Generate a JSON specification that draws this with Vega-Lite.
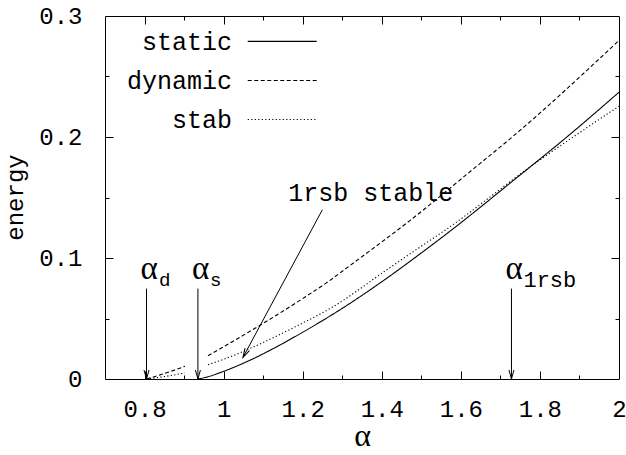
{
  "$schema": "https://vega.github.io/schema/vega-lite/v6.json",
  "width": 514,
  "height": 363,
  "autosize": {"type": "none"},
  "padding": {"left": 105, "top": 16, "right": 7, "bottom": 76},
  "background": "white",
  "config": {
    "view": {"stroke": "black", "strokeWidth": 1},
    "axis": {"grid": false, "domain": false, "labelColor": "black", "tickColor": "black", "titleColor": "black"}
  },
  "datasets": {
    "curves": [
      {"series": "static", "seg": "s1", "a": 0.935, "e": 0},
      {"series": "static", "seg": "s1", "a": 0.960, "e": 0.0018},
      {"series": "static", "seg": "s1", "a": 0.990, "e": 0.0051},
      {"series": "static", "seg": "s1", "a": 1.058, "e": 0.0142},
      {"series": "static", "seg": "s1", "a": 1.142, "e": 0.028},
      {"series": "static", "seg": "s1", "a": 1.201, "e": 0.0388},
      {"series": "static", "seg": "s1", "a": 1.302, "e": 0.0588},
      {"series": "static", "seg": "s1", "a": 1.395, "e": 0.0792},
      {"series": "static", "seg": "s1", "a": 1.496, "e": 0.1032},
      {"series": "static", "seg": "s1", "a": 1.572, "e": 0.1220},
      {"series": "static", "seg": "s1", "a": 1.757, "e": 0.1705},
      {"series": "static", "seg": "s1", "a": 1.860, "e": 0.1978},
      {"series": "static", "seg": "s1", "a": 2.0, "e": 0.237},
      {"series": "dynamic", "seg": "d1", "a": 0.805, "e": 0},
      {"series": "dynamic", "seg": "d1", "a": 0.85, "e": 0.0045},
      {"series": "dynamic", "seg": "d1", "a": 0.902, "e": 0.0105},
      {"series": "dynamic", "seg": "d2", "a": 0.9605, "e": 0.0193},
      {"series": "dynamic", "seg": "d2", "a": 0.990, "e": 0.0248},
      {"series": "dynamic", "seg": "d2", "a": 1.192, "e": 0.0648},
      {"series": "dynamic", "seg": "d2", "a": 1.268, "e": 0.0813},
      {"series": "dynamic", "seg": "d2", "a": 1.306, "e": 0.0905},
      {"series": "dynamic", "seg": "d2", "a": 1.471, "e": 0.1309},
      {"series": "dynamic", "seg": "d2", "a": 1.648, "e": 0.178},
      {"series": "dynamic", "seg": "d2", "a": 1.719, "e": 0.197},
      {"series": "dynamic", "seg": "d2", "a": 2.0, "e": 0.2798},
      {"series": "stab", "seg": "t1", "a": 0.805, "e": 0},
      {"series": "stab", "seg": "t1", "a": 0.85, "e": 0.002},
      {"series": "stab", "seg": "t1", "a": 0.902, "e": 0.005},
      {"series": "stab", "seg": "t2", "a": 0.9605, "e": 0.0118},
      {"series": "stab", "seg": "t2", "a": 0.990, "e": 0.0151},
      {"series": "stab", "seg": "t2", "a": 1.20, "e": 0.0463},
      {"series": "stab", "seg": "t2", "a": 1.268, "e": 0.058},
      {"series": "stab", "seg": "t2", "a": 1.416, "e": 0.091},
      {"series": "stab", "seg": "t2", "a": 1.496, "e": 0.1089},
      {"series": "stab", "seg": "t2", "a": 1.559, "e": 0.1227},
      {"series": "stab", "seg": "t2", "a": 1.774, "e": 0.175},
      {"series": "stab", "seg": "t2", "a": 2.0, "e": 0.2255}
    ],
    "thresholds": [
      {"a": 0.805, "sub": "d"},
      {"a": 0.935, "sub": "s"},
      {"a": 1.728, "sub": "1rsb"}
    ]
  },
  "resolve": {"axis": {"x": "independent", "y": "independent"}},
  "layer": [
    {
      "data": {"name": "curves"},
      "mark": {"type": "line", "color": "black", "strokeWidth": 1.1, "interpolate": "monotone"},
      "encoding": {
        "x": {"field": "a", "type": "quantitative",
          "scale": {"domain": [0.7, 2.0], "nice": false, "zero": false},
          "axis": {"orient": "bottom", "values": [0.8, 1, 1.2, 1.4, 1.6, 1.8, 2], "format": "~g",
            "ticks": false, "tickSize": 0, "labelPadding": 37, "labelBaseline": "alphabetic",
            "labelFont": "Liberation Mono", "labelFontSize": 24, "labelFlush": false, "labelOverlap": false,
            "title": "α", "titleFont": "Liberation Serif", "titleFontSize": 32, "titleFontWeight": "normal",
            "titleX": 257, "titleY": 66, "titleBaseline": "alphabetic", "titleAlign": "center"}},
        "y": {"field": "e", "type": "quantitative",
          "scale": {"domain": [0, 0.3], "nice": false, "zero": false},
          "axis": {"orient": "left", "values": [0, 0.1, 0.2, 0.3], "format": "~g",
            "ticks": false, "tickSize": 0, "labelPadding": 23, "labelBaseline": "middle",
            "labelFont": "Liberation Mono", "labelFontSize": 24, "labelFlush": false, "labelOverlap": false,
            "title": "energy", "titleFont": "Liberation Mono", "titleFontSize": 24, "titleFontWeight": "normal",
            "titleAngle": -90, "titleX": -83, "titleY": 181, "titleBaseline": "alphabetic", "titleAlign": "center"}},
        "strokeDash": {"field": "series", "type": "nominal",
          "scale": {"domain": ["static", "dynamic", "stab"], "range": [[1, 0], [4, 2.5], [1.2, 2.3]]},
          "legend": null},
        "detail": {"field": "seg"}
      }
    },
    {
      "data": {"name": "curves"},
      "mark": {"type": "point", "opacity": 0},
      "encoding": {
        "x": {"field": "a", "type": "quantitative",
          "axis": {"orient": "bottom", "values": [0.8, 1, 1.2, 1.4, 1.6, 1.8], "labels": false, "tickSize": -8, "title": null}},
        "y": {"field": "e", "type": "quantitative",
          "axis": {"orient": "left", "values": [0.1, 0.2], "labels": false, "tickSize": -8, "title": null}}
      }
    },
    {
      "data": {"name": "curves"},
      "mark": {"type": "point", "opacity": 0},
      "encoding": {
        "x": {"field": "a", "type": "quantitative",
          "axis": {"orient": "bottom", "values": [0.9, 1.1, 1.3, 1.5, 1.7, 1.9], "labels": false, "tickSize": -4, "title": null}},
        "y": {"field": "e", "type": "quantitative",
          "axis": {"orient": "left", "values": [0.05, 0.15, 0.25], "labels": false, "tickSize": -4, "title": null}}
      }
    },
    {
      "data": {"name": "curves"},
      "mark": {"type": "point", "opacity": 0},
      "encoding": {
        "x": {"field": "a", "type": "quantitative",
          "axis": {"orient": "top", "values": [0.8, 1, 1.2, 1.4, 1.6, 1.8], "labels": false, "tickSize": -8, "title": null}},
        "y": {"field": "e", "type": "quantitative",
          "axis": {"orient": "right", "values": [0.1, 0.2], "labels": false, "tickSize": -8, "title": null}}
      }
    },
    {
      "data": {"name": "curves"},
      "mark": {"type": "point", "opacity": 0},
      "encoding": {
        "x": {"field": "a", "type": "quantitative",
          "axis": {"orient": "top", "values": [0.9, 1.1, 1.3, 1.5, 1.7, 1.9], "labels": false, "tickSize": -4, "title": null}},
        "y": {"field": "e", "type": "quantitative",
          "axis": {"orient": "right", "values": [0.05, 0.15, 0.25], "labels": false, "tickSize": -4, "title": null}}
      }
    },
    {
      "data": {"name": "thresholds"},
      "mark": {"type": "rule", "color": "black", "strokeWidth": 1},
      "encoding": {
        "x": {"field": "a", "type": "quantitative", "axis": null},
        "y": {"datum": 0.0747, "type": "quantitative", "axis": null},
        "y2": {"datum": 0}
      }
    },
    {
      "data": {"name": "thresholds"},
      "mark": {"type": "point", "shape": "M-0.28,-1L0,0L0.28,-1", "size": 324, "filled": false, "stroke": "black", "strokeWidth": 1, "opacity": 1},
      "encoding": {
        "x": {"field": "a", "type": "quantitative", "axis": null},
        "y": {"datum": 0, "type": "quantitative", "axis": null}
      }
    },
    {
      "data": {"name": "thresholds"},
      "mark": {"type": "text", "text": "α", "font": "Liberation Serif", "fontSize": 33, "align": "left", "baseline": "alphabetic", "dx": -6, "color": "black"},
      "encoding": {
        "x": {"field": "a", "type": "quantitative", "axis": null},
        "y": {"datum": 0.0826, "type": "quantitative", "axis": null}
      }
    },
    {
      "data": {"values": [{"a": 0.805, "sub": "d"}, {"a": 0.935, "sub": "s"}]},
      "mark": {"type": "text", "font": "Liberation Sans", "fontSize": 19, "align": "left", "baseline": "alphabetic", "dx": 13, "color": "black"},
      "encoding": {
        "x": {"field": "a", "type": "quantitative", "axis": null},
        "y": {"datum": 0.0767, "type": "quantitative", "axis": null},
        "text": {"field": "sub"}
      }
    },
    {
      "data": {"values": [{"a": 1.728, "sub": "1rsb"}]},
      "mark": {"type": "text", "font": "Liberation Mono", "fontSize": 22, "align": "left", "baseline": "alphabetic", "dx": 12, "color": "black"},
      "encoding": {
        "x": {"field": "a", "type": "quantitative", "axis": null},
        "y": {"datum": 0.0758, "type": "quantitative", "axis": null},
        "text": {"field": "sub"}
      }
    },
    {
      "data": {"values": [{}]},
      "mark": {"type": "rule", "color": "black", "strokeWidth": 1},
      "encoding": {
        "x": {"datum": 1.2497, "type": "quantitative", "axis": null},
        "y": {"datum": 0.1398, "type": "quantitative", "axis": null},
        "x2": {"datum": 1.049},
        "y2": {"datum": 0.0179}
      }
    },
    {
      "data": {"values": [{}]},
      "mark": {"type": "point", "shape": "M-0.28,-1L0,0L0.28,-1", "size": 324, "filled": false, "stroke": "black", "strokeWidth": 1, "opacity": 1, "angle": 28},
      "encoding": {
        "x": {"datum": 1.049, "type": "quantitative", "axis": null},
        "y": {"datum": 0.0179, "type": "quantitative", "axis": null}
      }
    },
    {
      "data": {"values": [{"label": "1rsb stable"}]},
      "mark": {"type": "text", "font": "Liberation Mono", "fontSize": 25, "align": "center", "baseline": "alphabetic", "color": "black"},
      "encoding": {
        "x": {"datum": 1.372, "type": "quantitative", "axis": null},
        "y": {"datum": 0.1469, "type": "quantitative", "axis": null},
        "text": {"field": "label"}
      }
    },
    {
      "data": {"values": [{"label": "static"}]},
      "mark": {"type": "text", "font": "Liberation Mono", "fontSize": 25, "align": "right", "baseline": "alphabetic", "color": "black"},
      "encoding": {
        "x": {"datum": 1.021, "type": "quantitative", "axis": null},
        "y": {"datum": 0.2715, "type": "quantitative", "axis": null},
        "text": {"field": "label"}
      }
    },
    {
      "data": {"values": [{"label": "dynamic"}]},
      "mark": {"type": "text", "font": "Liberation Mono", "fontSize": 25, "align": "right", "baseline": "alphabetic", "color": "black"},
      "encoding": {
        "x": {"datum": 1.021, "type": "quantitative", "axis": null},
        "y": {"datum": 0.2399, "type": "quantitative", "axis": null},
        "text": {"field": "label"}
      }
    },
    {
      "data": {"values": [{"label": "stab"}]},
      "mark": {"type": "text", "font": "Liberation Mono", "fontSize": 25, "align": "right", "baseline": "alphabetic", "color": "black"},
      "encoding": {
        "x": {"datum": 1.021, "type": "quantitative", "axis": null},
        "y": {"datum": 0.2078, "type": "quantitative", "axis": null},
        "text": {"field": "label"}
      }
    },
    {
      "data": {"values": [{}]},
      "mark": {"type": "rule", "color": "black", "strokeWidth": 1.1},
      "encoding": {
        "x": {"datum": 1.061, "type": "quantitative", "axis": null},
        "x2": {"datum": 1.2354},
        "y": {"datum": 0.279, "type": "quantitative", "axis": null}
      }
    },
    {
      "data": {"values": [{}]},
      "mark": {"type": "rule", "color": "black", "strokeWidth": 1.1, "strokeDash": [4, 2.5]},
      "encoding": {
        "x": {"datum": 1.061, "type": "quantitative", "axis": null},
        "x2": {"datum": 1.2354},
        "y": {"datum": 0.2467, "type": "quantitative", "axis": null}
      }
    },
    {
      "data": {"values": [{}]},
      "mark": {"type": "rule", "color": "black", "strokeWidth": 1.1, "strokeDash": [1.2, 2.3]},
      "encoding": {
        "x": {"datum": 1.061, "type": "quantitative", "axis": null},
        "x2": {"datum": 1.2354},
        "y": {"datum": 0.2145, "type": "quantitative", "axis": null}
      }
    }
  ]
}
